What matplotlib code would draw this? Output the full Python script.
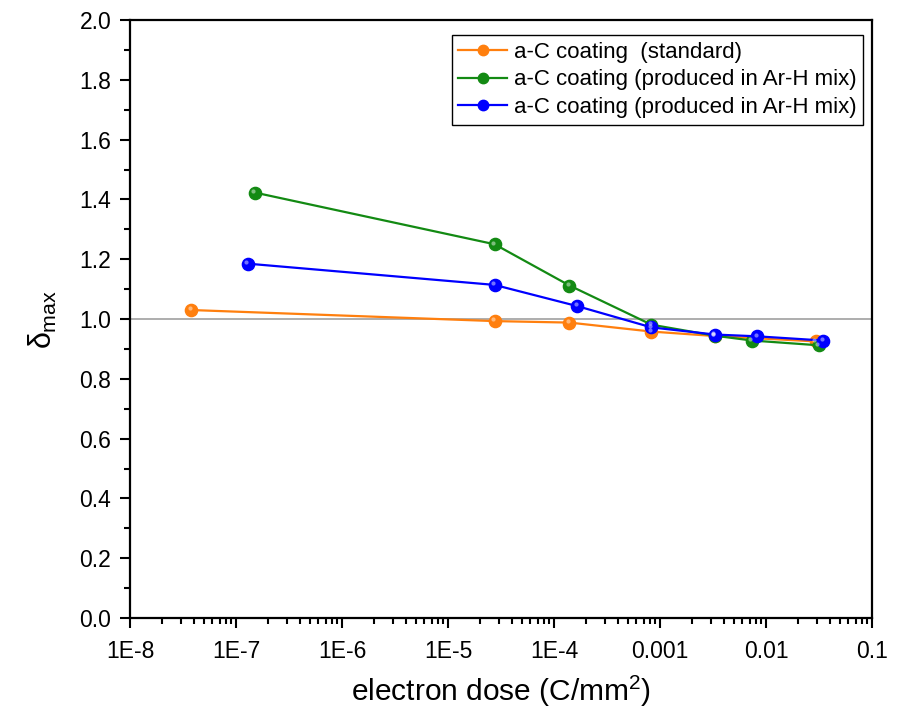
import matplotlib
matplotlib.use("Agg")
import matplotlib.pyplot as plt
import matplotlib.transforms as mtransforms
from matplotlib.ticker import LogLocator, FixedLocator, MultipleLocator, FuncFormatter

plt.rcParams['font.family'] = ['Liberation Sans', 'DejaVu Sans']
plt.rcParams['mathtext.fontset'] = 'custom'
plt.rcParams['mathtext.rm'] = 'Liberation Sans'
plt.rcParams['mathtext.it'] = 'Liberation Sans'

std_x = [3.8e-8, 2.75e-5, 1.40e-4, 8.3e-4, 3.3e-3, 0.0297]
std_y = [1.030, 0.993, 0.988, 0.958, 0.943, 0.925]

arh1_x = [1.5e-7, 2.75e-5, 1.40e-4, 8.3e-4, 3.3e-3, 7.4e-3, 0.0316]
arh1_y = [1.423, 1.250, 1.112, 0.981, 0.944, 0.928, 0.912]

arh2_x = [1.3e-7, 2.75e-5, 1.66e-4, 8.3e-4, 3.3e-3, 8.3e-3, 0.0348]
arh2_y = [1.185, 1.114, 1.043, 0.972, 0.948, 0.942, 0.928]

labels = ['a-C coating  (standard)',
          'a-C coating (produced in Ar-H mix)',
          'a-C coating (produced in Ar-H mix)']
colors = ['#ff7f0e', '#138a13', '#0000ff']

xticks = [1e-8, 1e-7, 1e-6, 1e-5, 1e-4, 1e-3, 1e-2, 1e-1]
xticklabels = ['1E-8', '1E-7', '1E-6', '1E-5', '1E-4', '0.001', '0.01', '0.1']

fig = plt.figure(figsize=(9.01, 7.14), dpi=100)
ax = fig.add_axes([130/901, 96/714, 742/901, 598/714])

ax.axhline(1.0, color='#a0a0a0', lw=1.2, zorder=1)

hl = mtransforms.offset_copy(ax.transData, fig=fig, x=-1.2, y=1.2, units='points')
for xs, ys, c, lab in zip([std_x, arh1_x, arh2_x], [std_y, arh1_y, arh2_y], colors, labels):
    ax.plot(xs, ys, '-o', color=c, lw=1.6, ms=8.8, mec=c, mfc=c, label=lab, zorder=3)
    ax.plot(xs, ys, 'o', ls='none', color='white', ms=3.0, alpha=0.45, zorder=4,
            markeredgewidth=0, transform=hl)

ax.set_xscale('log')
ax.set_xlim(1e-8, 0.1)
ax.set_ylim(0, 2.0)
ax.xaxis.set_major_locator(FixedLocator(xticks))
ax.set_xticklabels(xticklabels)
ax.xaxis.set_minor_locator(LogLocator(base=10, subs=range(2, 10), numticks=20))
ax.xaxis.set_minor_formatter(FuncFormatter(lambda v, p: ''))
ax.yaxis.set_major_locator(MultipleLocator(0.2))
ax.yaxis.set_minor_locator(MultipleLocator(0.1))
ax.yaxis.set_major_formatter(FuncFormatter(lambda v, p: f'{v:.1f}'))

ax.tick_params(which='both', direction='out', top=False, right=False, width=1.5)
ax.tick_params(which='major', length=7.5, labelsize=16.5, pad=6)
ax.tick_params(axis='x', which='major', pad=8)
ax.tick_params(which='minor', length=4)
for s in ax.spines.values():
    s.set_linewidth(1.6)

ax.set_xlabel('electron dose (C/mm$^2$)', fontsize=21.5, labelpad=8)
ax.set_ylabel(r'$\delta_{\mathrm{max}}$', fontsize=22, labelpad=15)

leg = ax.legend(loc='upper right', bbox_to_anchor=(0.988, 0.975), borderaxespad=0,
                fontsize=16, frameon=True, fancybox=False, edgecolor='black',
                framealpha=1, handlelength=2.2, handletextpad=0.3, borderpad=0.3,
                labelspacing=0.3, markerscale=0.85)
leg.get_frame().set_linewidth(1.0)

fig.savefig('out.png', dpi=100)
